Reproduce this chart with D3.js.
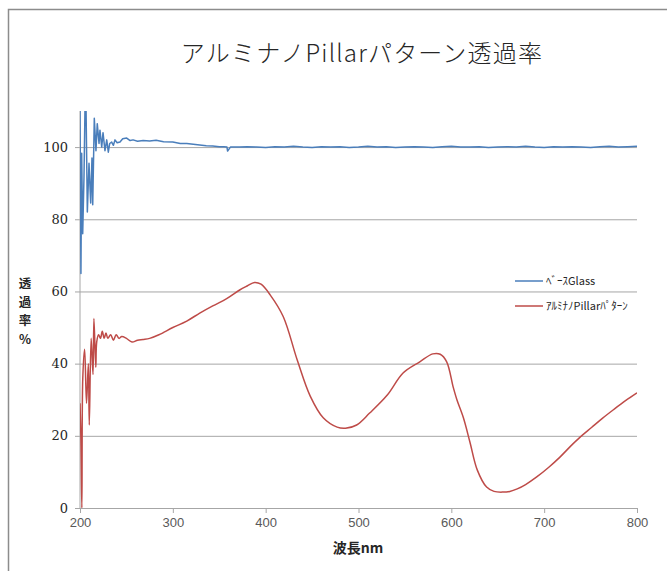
<!DOCTYPE html>
<html>
<head>
<meta charset="utf-8">
<script src="https://cdn.jsdelivr.net/npm/d3@7"></script>
<style>
    body { margin: 0; background: #fff; }
    svg { display: block; }
</style>
</head>
<body>
<div id="chart"></div>
<script>
// ticks
const xTicks = [200, 300, 400, 500, 600, 700, 800]
const yTicks = [0, 20, 40, 60, 80, 100]

// ベースGlass
const glassNm = [200, 201, 201.8, 202.9, 204.3, 205.4, 206.5, 207.9, 209.7, 211.5, 212.9, 213.7, 215.4, 217.2, 218.6,
    220.5, 221.5, 223.4, 224.8, 226.9, 228.8, 230.5, 232, 234.1, 236, 237.7, 240, 243.1, 246, 250.3, 254, 257.1,
    262, 268, 275, 282, 290, 300, 308, 315, 322, 329, 336, 343, 350, 355, 358.3, 359, 362, 372,
    380, 390, 400, 410, 420, 430, 440, 450, 460, 470, 480, 490, 500, 510, 520, 530, 540, 550, 560, 570,
    580, 590, 600, 610, 620, 630, 640, 650, 660, 670, 680, 690, 700, 710, 720, 730, 740, 750, 760, 770,
    780, 790, 800]
const glassT = [111, 65, 98.3, 76, 91.7, 111, 111, 82, 95.5, 84.5, 97, 84, 108, 99, 106.5,
    101, 104.7, 100, 104, 99, 102, 98.6, 101, 101.4, 100.5, 102, 101.2, 101.4, 102.3, 102.5, 101.8, 102,
    101.6, 101.8, 101.7, 101.9, 101.5, 101.4, 101, 101, 100.8, 100.6, 100.4, 100.3, 100.1, 100.1, 100, 98.9, 100, 100,
    100.1, 100, 99.9, 100.1, 100, 100.2, 100, 99.9, 100.1, 100, 100.1, 99.9, 100, 100.2, 100, 100.1, 99.9, 100, 100.1, 100,
    99.9, 100.1, 100.2, 100, 100, 100.1, 99.9, 100, 100.1, 100, 100.2, 100, 99.9, 100.1, 100, 100.1, 100, 99.9, 100.1, 100.2,
    100, 100.1, 100.2]

// アルミナノPillarパターン
const pillarNm = [200, 201, 202, 203, 205, 207, 209, 210, 212, 214, 215, 217, 218, 220, 222, 224, 226, 228, 230,
    233, 236, 239, 242, 245, 250, 256, 262, 268, 275, 285, 300, 315, 329, 343, 358, 372, 380, 388, 395,
    405, 419, 434, 448, 462, 477, 486, 498, 512, 531, 548, 566, 580, 588, 595, 602, 606, 613, 620, 628,
    638, 646, 655, 663, 671, 680, 692, 705, 717, 728, 739, 751, 763, 775, 788, 800]
const pillarT = [29, 19, 0, 36, 44, 29, 40, 23, 47, 37, 52.5, 39, 46, 48, 47, 49, 47, 48.5, 47,
    48, 46.5, 48, 47, 47.5, 47, 46, 46.5, 46.7, 47, 48, 50, 51.8, 54, 56, 58, 60.4, 61.5, 62.5, 62,
    59, 53, 41, 31, 25, 22.4, 22.1, 23, 26.3, 31.3, 37.4, 40.5, 42.7, 42.6, 40.5, 33.5, 30, 25, 18.3, 10.5,
    5.8, 4.6, 4.4, 4.6, 5.3, 6.5, 8.6, 11.3, 14.1, 17, 19.7, 22.3, 24.9, 27.3, 29.8, 31.9]

const series = [
    { name: 'ﾍﾞｰｽGlass', nm: glassNm, t: glassT, color: '#4a7ebb', curve: d3.curveLinear },
    { name: 'ｱﾙﾐﾅﾉPillarﾊﾟﾀｰﾝ', nm: pillarNm, t: pillarT, color: '#be4b48', curve: d3.curveCatmullRom.alpha(0.5) }
]

const width = 667, height = 571
const plot = { left: 80, right: 637, top: 111, bottom: 508 }

const svg = d3.select('#chart').append('svg')
    .attr('width', width)
    .attr('height', height)

// внешняя рамка (уходит за край картинки)
svg.append('rect')
    .attr('x', 8.5).attr('y', 9.5)
    .attr('width', 700).attr('height', 600)
    .attr('fill', 'none')
    .attr('stroke', '#8c8c8c')
    .attr('stroke-width', 1.5)

const x = d3.scaleLinear().domain([200, 800]).range([plot.left, plot.right])
const y = d3.scaleLinear().domain([0, 110]).range([plot.bottom, plot.top])

// сетка + левые засечки
svg.append('g')
    .attr('transform', `translate(${plot.left},0)`)
    .call(d3.axisLeft(y).tickValues(yTicks).tickSizeOuter(0).tickPadding(10))
    .call(g => g.select('.domain').remove())
    .call(g => g.selectAll('.tick line')
        .attr('x1', -5)
        .attr('x2', plot.right - plot.left)
        .attr('stroke', '#a6a6a6'))
    .call(g => g.selectAll('.tick text')
        .attr('x', -12)
        .attr('font-family', '"DejaVu Serif", serif')
        .attr('font-size', 13)
        .attr('fill', '#262626'))

// ось y
svg.append('line')
    .attr('x1', plot.left).attr('x2', plot.left)
    .attr('y1', plot.top).attr('y2', plot.bottom)
    .attr('stroke', '#a6a6a6')

// ось x
svg.append('g')
    .attr('transform', `translate(0,${plot.bottom})`)
    .call(d3.axisBottom(x).tickValues(xTicks).tickSize(5).tickSizeOuter(0).tickPadding(5))
    .call(g => g.select('.domain').attr('stroke', '#a6a6a6'))
    .call(g => g.selectAll('.tick line').attr('stroke', '#a6a6a6'))
    .call(g => g.selectAll('.tick text')
        .attr('font-family', '"Liberation Sans Narrow", "Liberation Sans", sans-serif')
        .attr('font-size', 13)
        .attr('fill', '#595959'))

svg.append('defs').append('clipPath')
    .attr('id', 'clip')
    .append('rect')
    .attr('x', plot.left).attr('y', plot.top)
    .attr('width', plot.right - plot.left)
    .attr('height', plot.bottom - plot.top)

const lines = svg.append('g').attr('clip-path', 'url(#clip)')

series.forEach(s => {
    const pts = s.nm.map((d, i) => [d, s.t[i]])
    lines.append('path')
        .datum(pts)
        .attr('fill', 'none')
        .attr('stroke', s.color)
        .attr('stroke-width', 1.5)
        .attr('stroke-linejoin', 'round')
        .attr('d', d3.line()
            .x(d => x(d[0]))
            .y(d => y(d[1]))
            .curve(s.curve))
})

// легенда
const legend = svg.append('g').attr('transform', 'translate(515,281)')
series.forEach((s, i) => {
    const row = legend.append('g').attr('transform', `translate(0,${i * 25})`)
    row.append('line')
        .attr('x1', 0).attr('x2', 28)
        .attr('stroke', s.color)
        .attr('stroke-width', 1.5)
    row.append('text')
        .attr('x', 31)
        .attr('dy', '0.35em')
        .attr('font-family', '"Noto Sans CJK JP", sans-serif')
        .attr('font-size', 11)
        .attr('fill', '#262626')
        .text(s.name)
})

// заголовок
svg.append('text')
    .attr('x', 362)
    .attr('y', 62)
    .attr('text-anchor', 'middle')
    .attr('font-family', '"Noto Sans CJK JP", sans-serif')
    .attr('font-weight', 300)
    .attr('font-size', 24)
    .attr('letter-spacing', 1.2)
    .attr('fill', '#262626')
    .text('アルミナノPillarパターン透過率')

// подпись оси x
svg.append('text')
    .attr('x', 358)
    .attr('y', 553)
    .attr('text-anchor', 'middle')
    .attr('font-family', '"Noto Sans CJK JP", sans-serif')
    .attr('font-weight', 700)
    .attr('font-size', 14)
    .attr('fill', '#262626')
    .text('波長nm')

// подпись оси y (вертикально)
const yLabel = ['透', '過', '率', '%']
svg.append('g')
    .selectAll('text')
    .data(yLabel)
    .join('text')
    .attr('x', 25)
    .attr('y', (d, i) => 284 + i * 18.5)
    .attr('dy', '0.35em')
    .attr('text-anchor', 'middle')
    .attr('font-family', '"Noto Sans CJK JP", sans-serif')
    .attr('font-weight', 700)
    .attr('font-size', 12.5)
    .attr('fill', '#262626')
    .text(d => d)
</script>
</body>
</html>
